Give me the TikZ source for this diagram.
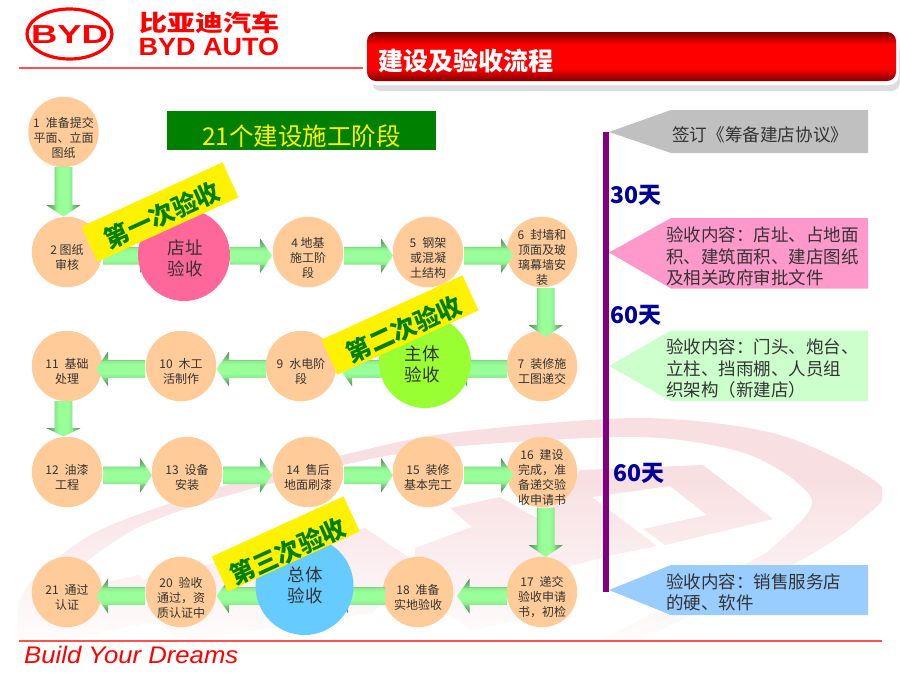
\documentclass[tikz,border=0pt]{standalone}
\usepackage{fontspec}
\setmainfont{Noto Sans CJK SC}
\newfontfamily\lat{Liberation Sans}
\usetikzlibrary{shapes.geometric,calc}
\definecolor{gstop}{HTML}{99FF99}
\definecolor{gdark}{HTML}{4A8A5A}
\definecolor{peach}{HTML}{FFCC99}
\definecolor{wmtop}{HTML}{F8E0E2}
\definecolor{wmmid}{HTML}{FBEEF0}
\definecolor{wmbot}{HTML}{FEFCFC}
\definecolor{txtg}{HTML}{333333}
\definecolor{dkgreen}{HTML}{008000}
\definecolor{dkblue}{HTML}{000099}
\definecolor{purp}{HTML}{800080}
\definecolor{redrule}{HTML}{FF5050}
\definecolor{barpink}{HTML}{FF6699}
\definecolor{barlime}{HTML}{99FF33}
\definecolor{barsky}{HTML}{66CCFF}
\definecolor{flagpink}{HTML}{FF99CC}
\definecolor{flaggreen}{HTML}{CCFFCC}
\definecolor{flagblue}{HTML}{99CCFF}
\definecolor{flaggray}{HTML}{C0C0C0}
\definecolor{shadowg}{HTML}{DEDEDE}
\pgfdeclareverticalshading{arrowgrad}{100bp}{
 color(0bp)=(gdark); color(25bp)=(gdark); color(37.4bp)=(gstop!65!gdark); color(37.6bp)=(gstop!82!gdark); color(44bp)=(gstop); color(56bp)=(gstop); color(62.4bp)=(gstop!82!gdark); color(62.6bp)=(gstop!65!gdark); color(75bp)=(gdark); color(100bp)=(gdark)}
\pgfdeclareverticalshading{redbar}{100bp}{
 color(0bp)=(red!50!black); color(25bp)=(red!50!black); color(38bp)=(red); color(62bp)=(red); color(75bp)=(red!50!black); color(100bp)=(red!50!black)}
\pgfdeclareverticalshading{wmgrad}{100bp}{
 color(0bp)=(wmbot); color(25bp)=(wmbot); color(42bp)=(wmmid); color(58bp)=(wmtop); color(100bp)=(wmtop)}
\tikzset{
 stage/.style={circle,fill=peach,minimum size=70.5pt,inner sep=0pt},
 stagetxt/.style={inner sep=0pt,align=center,yshift=-5.5pt,font=\fontsize{12pt}{15pt}\selectfont,text=txtg},
 bigc/.style={circle,minimum size=92pt,inner sep=0pt},
 bigtxt/.style={inner sep=0pt,align=center,font=\fontsize{17.5pt}{21pt}\selectfont,text=black!80},
 banner/.style={fill=yellow,minimum width=155pt,minimum height=38.5pt,inner sep=0pt,rotate=24.5},
 bannertxt/.style={text=dkgreen,font=\fontsize{24.7pt}{25pt}\selectfont\bfseries,rotate=24.5,inner sep=0pt},
 daylbl/.style={text=dkblue,font=\fontsize{23pt}{23pt}\selectfont\bfseries,inner sep=0pt},
 note/.style={anchor=west,inner sep=0pt,align=left,font=\fontsize{17.5pt}{21.2pt}\selectfont,text=black!80},
 redline/.style={draw=redrule,line width=1.3pt}
}
\newcommand{\stagenode}[3]{\node[stage,label={[stagetxt]center:{#3}}] (#1) at (#2) {};}
\newcommand{\wmshape}[1]{\begin{scope}\clip #1;\shade[shading=wmgrad] (0,400) rectangle (900,641);\end{scope}}
\newcommand{\harrow}[4]{%
 \shade[shading=arrowgrad] (#1,#3-8.8) -- (#4,#3-8.8) -- (#4,#3-17.3) -- (#2,#3) -- (#4,#3+17.3) -- (#4,#3+8.8) -- (#1,#3+8.8) -- cycle;}
\newcommand{\varrow}[4]{%
 \shade[shading=arrowgrad,shading angle=90] (#3-8.8,#1) -- (#3-8.8,#4) -- (#3-17.3,#4) -- (#3,#2) -- (#3+17.3,#4) -- (#3+8.8,#4) -- (#3+8.8,#1) -- cycle;}
\begin{document}
\begin{tikzpicture}[x=1pt,y=-1pt]
\useasboundingbox (0,0) rectangle (900,675);
\fill[white] (0,0) rectangle (900,675);
% watermark
\begin{scope}
\clip (18,400) rectangle (882,641);
\wmshape{plot[smooth] coordinates {(18,641) (18,610) (33,580) (100,530) (233,483) (343,455) (450,433) (640,418) (780,435) (882,487) (857,523) (807,557) (760,580) (640,641)} -- plot[smooth] coordinates {(600,641) (740,567) (773,547) (812,500) (750,455) (640,437) (450,447) (343,465) (213,500) (133,530) (67,577) (37,613) (30,641)} -- cycle}
\wmshape{(703,465) -- (773,519) -- (665,545) -- (643,529) -- (707,515) -- (670,486) -- (592,497) -- (657,546) -- (603,557) -- (540,525) -- (580,470) -- cycle}
\wmshape{(450,508) -- (500,497) -- (603,557) -- (530,578) -- (560,612) -- (470,630) -- (415,590) -- (415,548) -- (472,527) -- cycle}
\wmshape{(120,585) -- (365,528) -- (420,565) -- (372,613) -- (180,641) -- cycle}
\wmshape{(18,600) -- (140,575) -- (160,620) -- (60,641) -- (18,641) -- cycle}
\end{scope}
% rules
\draw[redline] (19,68) -- (363,68);
\draw[redline] (19,641) -- (882,641);
\node[inner sep=0pt,text=red,anchor=west,font=\lat\itshape\fontsize{24pt}{24pt}\selectfont,xscale=1.07] (slogan) at (24,655) {Build Your Dreams};
% logo
\node[draw=red,ellipse,line width=3.2pt,minimum width=85pt,minimum height=50pt,inner sep=0pt] (logoring) at (69.5,34) {};
\node[inner sep=0pt,text=red,font=\lat\bfseries\fontsize{26pt}{26pt}\selectfont,xscale=1.4] (logobyd) at (69.5,34.5) {BYD};
\node[inner sep=0pt,text=red,font=\bfseries\fontsize{28pt}{28pt}\selectfont,xscale=1,yscale=.82,anchor=west] (logocn) at (139,22.5) {比亚迪汽车};
\node[inner sep=0pt,text=red,font=\lat\bfseries\fontsize{25pt}{25pt}\selectfont,xscale=1.08,anchor=west] (logoen) at (138.5,47) {BYD AUTO};
% title bar
\fill[shadowg,rounded corners=9pt] (372,44) rectangle (900,91);
\fill[white,rounded corners=10pt] (365,30) rectangle (899,85);
\shade[shading=redbar,rounded corners=9pt] (367,32) rectangle (896,81);
\node[inner sep=0pt,text=white,font=\bfseries\fontsize{25pt}{25pt}\selectfont,anchor=west] (title) at (378,61) {建设及验收流程};
% green head box
\node[fill=dkgreen,minimum width=269pt,minimum height=39pt,inner sep=0pt] (head) at (301.5,130.5) {};
\node[text=yellow,inner sep=0pt,font=\fontsize{24.5pt}{24.5pt}\selectfont] (headtxt) at (301.5,136) {21个建设施工阶段};
% stage circles
\stagenode{s1}{63.5,132}{1\enspace 准备提交\\平面、立面\\图纸}
\stagenode{s2}{67,252}{2 图纸\\审核}
\stagenode{s4}{308,252}{4 地基\\施工阶\\段}
\stagenode{s5}{428,252}{5\enspace 钢架\\或混凝\\土结构}
\stagenode{s6}{542,252}{6\enspace 封墙和\\顶面及玻\\璃幕墙安\\装}
\stagenode{s7}{542,366}{7\enspace 装修施\\工图递交}
\stagenode{s9}{301,366}{9\enspace 水电阶\\段}
\stagenode{s10}{181,366}{10\enspace 木工\\活制作}
\stagenode{s11}{67,366}{11\enspace 基础\\处理}
\stagenode{s12}{67,472}{12\enspace 油漆\\工程}
\stagenode{s13}{187,472}{13\enspace 设备\\安装}
\stagenode{s14}{308,472}{14\enspace 售后\\地面刷漆}
\stagenode{s15}{428,472}{15\enspace 装修\\基本完工}
\stagenode{s16}{542,472}{16\enspace 建设\\完成，准\\备递交验\\收申请书}
\stagenode{s17}{542,592}{17\enspace 递交\\验收申请\\书，初检}
\stagenode{s18}{418,592}{18\enspace 准备\\实地验收}
\stagenode{s20}{181,592}{20\enspace 验收\\通过，资\\质认证中}
\stagenode{s21}{67,592}{21\enspace 通过\\认证}
% arrows
\varrow{167}{216.5}{63.5}{205}
\harrow{103}{152}{255.7}{140}
\harrow{230}{272}{255.7}{260}
\harrow{344}{393}{255.7}{381}
\harrow{464}{513.5}{255.7}{501}
\varrow{288}{337}{545.7}{325}
\harrow{507}{455}{369}{467}
\harrow{390}{340}{369}{352}
\harrow{266}{216.5}{369}{229}
\harrow{145}{96}{369}{108}
\varrow{401}{436.5}{63.5}{428}
\harrow{103}{152}{475.3}{140}
\harrow{223}{272}{475.3}{260}
\harrow{344}{393}{475.3}{381}
\harrow{464}{513.5}{475.3}{501}
\varrow{507.5}{557}{545.7}{545}
\harrow{507}{457}{596}{469.5}
\harrow{385}{336}{596}{348}
\harrow{260}{216.5}{596}{229}
\harrow{145}{96}{596}{108}
% big circles
\node[bigc,fill=barpink] (c1) at (184,255) {};
\node[bigtxt] (c1t) at (185,258.5) {店址\\验收};
\node[bigc,fill=barlime] (c2) at (425,362) {};
\node[bigtxt] (c2t) at (422,364.5) {主体\\验收};
\node[bigc,fill=barsky,minimum size=98pt] (c3) at (304.5,586) {};
\node[bigtxt] (c3t) at (305,585.5) {总体\\验收};
% banners
\node[banner] (b1) at (160,212) {};
\node[bannertxt] (b1t) at (162,215) {第一次验收};
\node[banner] (b2) at (400,325) {};
\node[bannertxt] (b2t) at (404,329) {第二次验收};
\node[banner,minimum width=145pt] (b3) at (285.7,544) {};
\node[bannertxt] (b3t) at (288,551.5) {第三次验收};
% timeline
\fill[purp] (602.7,132) rectangle (609,592);
\fill[flaggray] (609,132) -- (671,110) -- (868,110) -- (868,153) -- (671,153) -- cycle;
\fill[flagpink] (609,252.5) -- (671,218) -- (868,218) -- (868,288.5) -- (671,288.5) -- cycle;
\fill[flaggreen] (609,366) -- (671,330.5) -- (868,330.5) -- (868,401) -- (671,401) -- cycle;
\fill[flagblue] (609,590) -- (671,565) -- (868,565) -- (868,615) -- (671,615) -- cycle;
\node[note,font=\fontsize{17.6pt}{18pt}\selectfont] (n0) at (672,134.5) {签订《筹备建店协议》};
\node[note] (n1) at (666,256.5) {验收内容：店址、占地面\\积、建筑面积、建店图纸\\及相关政府审批文件};
\node[note] (n2) at (666,368.5) {验收内容：门头、炮台、\\立柱、挡雨棚、人员组\\织架构（新建店）};
\node[note] (n3) at (666,592.5) {验收内容：销售服务店\\的硬、软件};
\node[daylbl,anchor=west] (d1) at (610,195) {30天};
\node[daylbl,anchor=west] (d2) at (610,315) {60天};
\node[daylbl,anchor=west] (d3) at (613,473) {60天};
\end{tikzpicture}
\end{document}
